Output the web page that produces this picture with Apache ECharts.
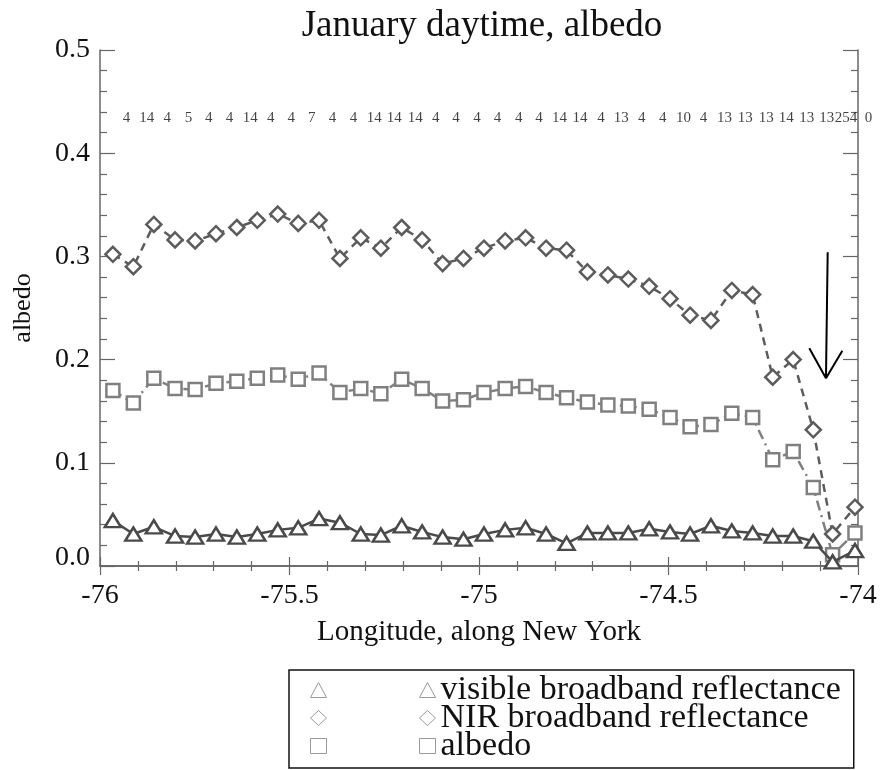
<!DOCTYPE html>
<html>
<head>
<meta charset="utf-8">
<script src="https://cdn.jsdelivr.net/npm/echarts@6/dist/echarts.min.js"></script>
<style>
  html, body { margin: 0; padding: 0; background: #fff; }
  #chart { width: 881px; height: 770px; }
</style>
</head>
<body>
<div id="chart"></div>
<script>
// longitude of each bin
const lon = [-75.966, -75.912, -75.858, -75.802, -75.749, -75.694, -75.639, -75.585, -75.531, -75.477,
  -75.422, -75.367, -75.312, -75.259, -75.204, -75.150, -75.096, -75.041, -74.987, -74.931,
  -74.877, -74.823, -74.769, -74.714, -74.660, -74.606, -74.551, -74.496, -74.443, -74.388,
  -74.333, -74.278, -74.225, -74.171, -74.118, -74.067, -74.008];

const visible = [0.044, 0.031, 0.038, 0.029, 0.028, 0.031, 0.028, 0.031, 0.035, 0.037,
  0.046, 0.042, 0.031, 0.030, 0.039, 0.033, 0.028, 0.026, 0.031, 0.035,
  0.037, 0.031, 0.022, 0.032, 0.032, 0.032, 0.036, 0.033, 0.031, 0.039,
  0.034, 0.032, 0.029, 0.029, 0.024, 0.004, 0.015];

const nir = [0.302, 0.290, 0.331, 0.316, 0.315, 0.322, 0.328, 0.335, 0.341, 0.332,
  0.335, 0.298, 0.318, 0.308, 0.328, 0.316, 0.293, 0.298, 0.308, 0.315,
  0.318, 0.308, 0.306, 0.285, 0.282, 0.278, 0.271, 0.259, 0.243, 0.238,
  0.267, 0.263, 0.183, 0.200, 0.132, 0.031, 0.057];

const albedo = [0.170, 0.158, 0.182, 0.172, 0.171, 0.177, 0.179, 0.182, 0.185, 0.181,
  0.187, 0.168, 0.172, 0.167, 0.181, 0.172, 0.160, 0.161, 0.168, 0.172,
  0.174, 0.168, 0.163, 0.159, 0.156, 0.155, 0.152, 0.144, 0.135, 0.137,
  0.148, 0.144, 0.103, 0.111, 0.076, 0.011, 0.032];

// number of pixels in each bin, printed along the top
const counts = [4, 14, 4, 5, 4, 4, 14, 4, 4, 7, 4, 4, 14, 14, 14, 4, 4, 4, 4, 4,
  4, 14, 14, 4, 13, 4, 4, 10, 4, 13, 13, 13, 14, 13, 13, 254, 0];
const countRowY = 0.434;

const seriesNames = ['visible broadband reflectance', 'NIR broadband reflectance', 'albedo'];
const legendIcons = ['triangle', 'diamond', 'rect'];

// arrow pointing at the dip (data coords)
const arrowTop = [-74.080, 0.304];
const arrowTip = [-74.0845, 0.182];
const arrowLeft = [-74.1285, 0.211];
const arrowRight = [-74.0414, 0.2086];

const FONT = 'Liberation Serif';
const AX = '#666';

const myChart = echarts.init(document.getElementById('chart'));

function pairs(ys) {
    return lon.map((x, i) => [x, ys[i]]);
}

const countData = lon.map((x, i) => [x, countRowY, counts[i]]);

const axisCommon = {
    type: 'value',
    axisLine: { show: true, lineStyle: { color: AX, width: 1.5 } },
    splitLine: { show: false },
};

const legendCommon = {
    data: seriesNames.map((n, i) => ({ name: n, icon: legendIcons[i] })),
    orient: 'vertical',
    bottom: 2,
    itemGap: -6,
    itemWidth: 16,
    itemHeight: 15,
    selectedMode: false,
    itemStyle: { color: '#fff', borderColor: '#999', borderWidth: 1 },
};

var option = {
    backgroundColor: '#fff',
    animation: false,
    title: {
        text: 'January daytime, albedo',
        left: 477,
        textAlign: 'center',
        top: 3,
        textStyle: { fontFamily: FONT, fontSize: 37, fontWeight: 'normal', color: '#111' },
    },
    grid: { left: 100, right: 23, top: 50, bottom: 204 },
    legend: [
        Object.assign({}, legendCommon, {
            left: 289,
            padding: [3, 13, 5, 130],
            borderColor: '#111',
            borderWidth: 1.5,
            textStyle: { fontFamily: FONT, fontSize: 34, color: '#111' },
        }),
        Object.assign({}, legendCommon, {
            left: 310,
            padding: [3, 0, 5, 0],
            formatter: () => ' ',
            textStyle: { fontFamily: FONT, fontSize: 34 },
        }),
    ],
    xAxis: [
        Object.assign({}, axisCommon, {
            position: 'bottom',
            min: -76, max: -74, interval: 0.5,
            name: 'Longitude, along New York',
            nameLocation: 'middle',
            nameGap: 52,
            nameTextStyle: { fontFamily: FONT, fontSize: 29, color: '#111' },
            axisTick: { inside: true, length: 9, lineStyle: { color: AX, width: 1.2 } },
            minorTick: { show: true, splitNumber: 5, length: 5, lineStyle: { color: AX, width: 1.2 } },
            axisLabel: { fontFamily: FONT, fontSize: 28, color: '#111', margin: 16 },
        }),
        Object.assign({}, axisCommon, {
            position: 'top',
            min: -76, max: -74, interval: 0.5,
            axisTick: { inside: true, length: 9, lineStyle: { color: AX, width: 1.2 } },
            minorTick: { show: true, splitNumber: 5, length: 5, lineStyle: { color: AX, width: 1.2 } },
            axisLabel: { show: false },
        }),
    ],
    yAxis: [
        Object.assign({}, axisCommon, {
            position: 'left',
            min: 0, max: 0.5, interval: 0.1,
            name: 'albedo',
            nameLocation: 'middle',
            nameGap: 64,
            nameTextStyle: { fontFamily: FONT, fontSize: 26, color: '#111' },
            axisTick: { inside: true, length: 15, lineStyle: { color: AX, width: 1.2 } },
            minorTick: { show: true, splitNumber: 5, length: 7, lineStyle: { color: AX, width: 1.2 } },
            axisLabel: {
                fontFamily: FONT, fontSize: 28, color: '#111', margin: 10,
                formatter: (v) => (v === 0 ? '{lo|0.0}' : v.toFixed(1)),
                rich: { lo: { fontFamily: FONT, fontSize: 28, color: '#111', padding: [0, 0, 16, 0] } },
            },
        }),
        Object.assign({}, axisCommon, {
            position: 'right',
            min: 0, max: 0.5, interval: 0.1,
            axisTick: { inside: true, length: 15, lineStyle: { color: AX, width: 1.2 } },
            minorTick: { show: true, splitNumber: 5, length: 7, lineStyle: { color: AX, width: 1.2 } },
            axisLabel: { show: false },
        }),
    ],
    series: [
        {
            name: seriesNames[0],
            type: 'line',
            data: pairs(visible),
            symbol: 'triangle',
            symbolSize: [16, 13],
            lineStyle: { color: '#4a4a4a', width: 2.5 },
            itemStyle: { color: '#fff', borderColor: '#4a4a4a', borderWidth: 2.5 },
            z: 3,
        },
        {
            name: seriesNames[1],
            type: 'line',
            data: pairs(nir),
            symbol: 'diamond',
            symbolSize: 15,
            lineStyle: { color: '#5c5c5c', width: 2.5, type: [8, 6] },
            itemStyle: { color: '#fff', borderColor: '#5c5c5c', borderWidth: 2.5 },
            z: 2,
            markLine: {
                silent: true,
                symbol: 'none',
                label: { show: false },
                lineStyle: { color: '#000', width: 2, type: 'solid' },
                data: [
                    [{ coord: arrowTop }, { coord: arrowTip }],
                    [{ coord: arrowLeft }, { coord: arrowTip }],
                    [{ coord: arrowRight }, { coord: arrowTip }],
                ],
            },
        },
        {
            name: seriesNames[2],
            type: 'line',
            data: pairs(albedo),
            symbol: 'rect',
            symbolSize: 13,
            lineStyle: { color: '#808080', width: 2.5, type: [10, 5, 2, 5] },
            itemStyle: { color: '#fff', borderColor: '#808080', borderWidth: 2.5 },
            z: 2,
        },
        {
            name: 'counts',
            type: 'scatter',
            data: countData,
            symbolSize: 1,
            itemStyle: { color: 'rgba(0,0,0,0)' },
            label: {
                show: true,
                position: [14, 0],
                align: 'center',
                verticalAlign: 'middle',
                formatter: (p) => String(p.value[2]),
                fontFamily: FONT, fontSize: 15, color: '#111',
            },
            labelLayout: { hideOverlap: false },
            silent: true,
        },
    ],
};

myChart.setOption(option);
</script>
</body>
</html>
